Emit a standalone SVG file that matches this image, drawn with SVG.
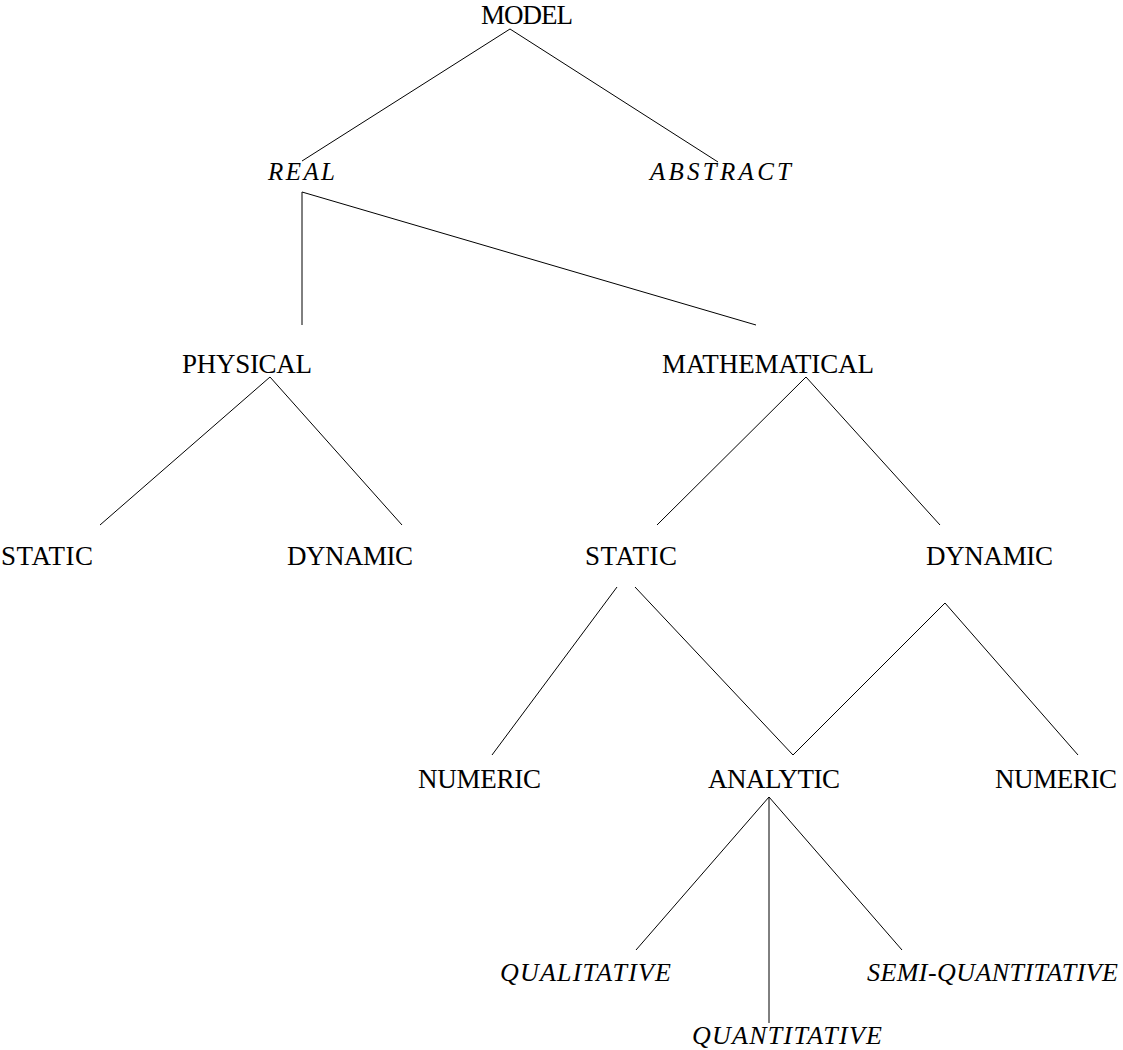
<svg xmlns="http://www.w3.org/2000/svg" width="1123" height="1050" viewBox="0 0 1123 1050">
<style>
text{font-family:"Liberation Serif","Times New Roman",serif;font-size:27px;fill:#000}
.it{font-style:italic;font-size:26px}
.sm{font-size:25px}
#connectors line{stroke:#000;stroke-width:1;fill:none}
</style>
<rect width="1123" height="1050" fill="#fff"/>
<g id="connectors">
<line x1="510" y1="29" x2="302" y2="161"/>
<line x1="510" y1="29" x2="718" y2="162"/>
<line x1="302" y1="192" x2="302" y2="325"/>
<line x1="302" y1="192" x2="756" y2="325"/>
<line x1="270" y1="377" x2="100" y2="525"/>
<line x1="270" y1="377" x2="402" y2="525"/>
<line x1="806" y1="377" x2="657" y2="525"/>
<line x1="806" y1="377" x2="940" y2="525"/>
<line x1="617" y1="587" x2="492" y2="755"/>
<line x1="635" y1="587" x2="793" y2="755"/>
<line x1="945" y1="603" x2="793" y2="755"/>
<line x1="945" y1="603" x2="1078" y2="755"/>
<line x1="769" y1="797" x2="636" y2="950"/>
<line x1="769" y1="797" x2="769" y2="1023"/>
<line x1="769" y1="797" x2="902" y2="950"/>
</g>
<g id="model"><text x="481" y="24" textLength="92" lengthAdjust="spacing">MODEL</text></g>
<g id="real"><text class="it sm" x="268" y="180" textLength="67" lengthAdjust="spacing">REAL</text></g>
<g id="abstract"><text class="it sm" x="650" y="180" textLength="141" lengthAdjust="spacing">ABSTRACT</text></g>
<g id="physical"><text x="182" y="373" textLength="130" lengthAdjust="spacing">PHYSICAL</text></g>
<g id="mathematical"><text x="662" y="373" textLength="212" lengthAdjust="spacing">MATHEMATICAL</text></g>
<g id="physical-static"><text x="1" y="565" textLength="92" lengthAdjust="spacing">STATIC</text></g>
<g id="physical-dynamic"><text x="287" y="565" textLength="126" lengthAdjust="spacing">DYNAMIC</text></g>
<g id="math-static"><text x="585" y="565" textLength="92" lengthAdjust="spacing">STATIC</text></g>
<g id="math-dynamic"><text x="926" y="565" textLength="127" lengthAdjust="spacing">DYNAMIC</text></g>
<g id="static-numeric"><text x="418" y="788" textLength="123" lengthAdjust="spacing">NUMERIC</text></g>
<g id="analytic"><text x="708" y="788" textLength="132" lengthAdjust="spacing">ANALYTIC</text></g>
<g id="dynamic-numeric"><text x="995" y="788" textLength="122" lengthAdjust="spacing">NUMERIC</text></g>
<g id="qualitative"><text class="it" x="500" y="981" textLength="171" lengthAdjust="spacing">QUALITATIVE</text></g>
<g id="quantitative"><text class="it" x="692" y="1044" textLength="190" lengthAdjust="spacing">QUANTITATIVE</text></g>
<g id="semi-quantitative"><text class="it" x="867" y="981" textLength="251" lengthAdjust="spacing">SEMI-QUANTITATIVE</text></g>
</svg>
